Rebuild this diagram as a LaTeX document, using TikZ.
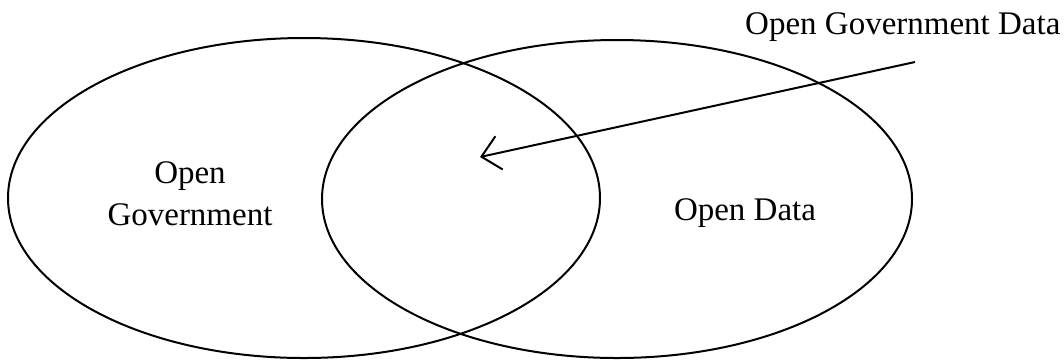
\documentclass[tikz,border=0pt]{standalone}
\usepackage{fontspec}
\setmainfont{Liberation Serif}
\usetikzlibrary{arrows.meta,shapes.geometric}
\begin{document}
\begin{tikzpicture}[x=1pt,y=-1pt,
  ell/.style={draw=black,line width=2pt},
  lbl/.style={font=\fontsize{33}{42}\selectfont,align=center,inner sep=0pt},
  conn/.style={line width=2pt,-{Straight Barb[length=18pt,width=34pt,line width=2pt]}}]
\useasboundingbox (0,0) rectangle (1064,360);
\node[ell,ellipse,minimum width=592pt,minimum height=320pt,inner sep=0pt] (og) at (304,198) {};
\node[ell,ellipse,minimum width=590pt,minimum height=318pt,inner sep=0pt] (od) at (617,199) {};
\node[lbl] (ogt) at (190,194) {Open\\Government};
\node[lbl] (odt) at (745,213) {Open Data};
\node[lbl,fill=white,inner xsep=10pt,inner ysep=6pt,anchor=north west] (ogd) at (735,6) {Open Government Data};
\coordinate (s) at (915,62);
\coordinate (t) at (480,157);
\draw[conn] (s) -- (t);
\end{tikzpicture}
\end{document}
